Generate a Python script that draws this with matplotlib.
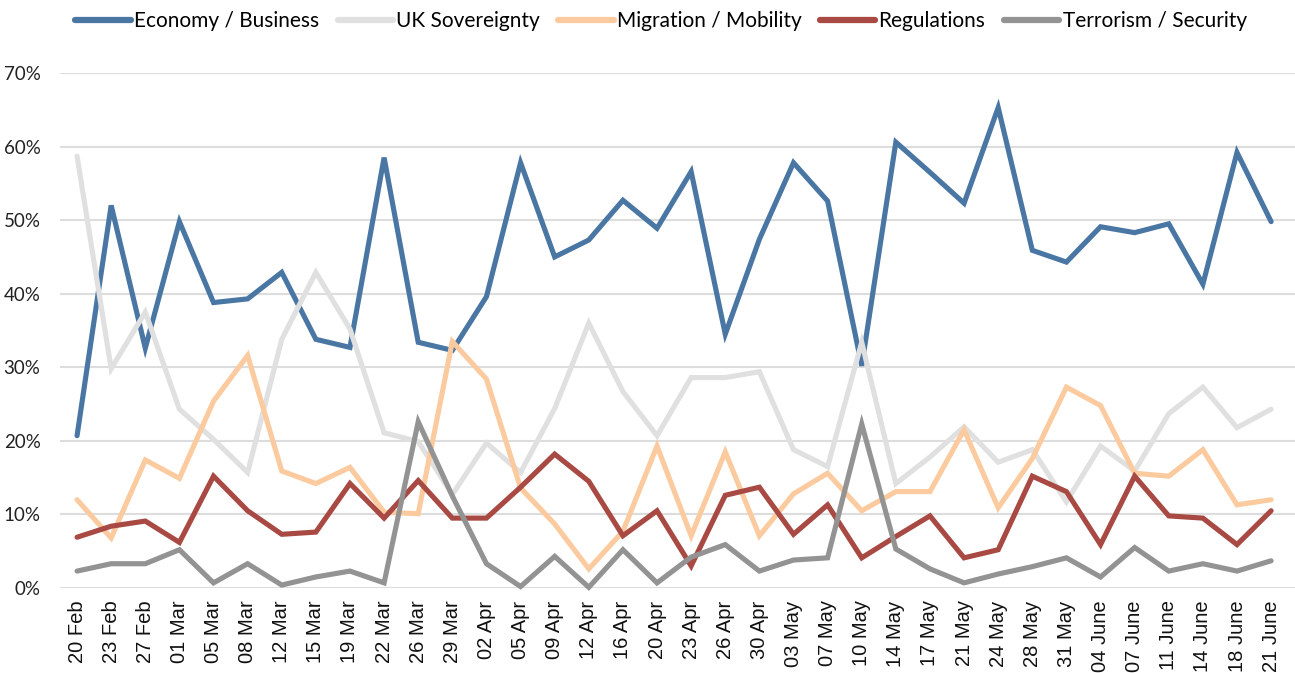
import matplotlib
matplotlib.use("Agg")
import matplotlib.pyplot as plt
import numpy as np

dates = ["20 Feb", "23 Feb", "27 Feb", "01 Mar", "05 Mar", "08 Mar", "12 Mar", "15 Mar",
         "19 Mar", "22 Mar", "26 Mar", "29 Mar", "02 Apr", "05 Apr", "09 Apr", "12 Apr",
         "16 Apr", "20 Apr", "23 Apr", "26 Apr", "30 Apr", "03 May", "07 May", "10 May",
         "14 May", "17 May", "21 May", "24 May", "28 May", "31 May", "04 June", "07 June",
         "11 June", "14 June", "18 June", "21 June"]

economy = [20.7, 52.0, 32.6, 49.8, 38.8, 39.3, 42.9, 33.8, 32.7, 58.5, 33.4, 32.3,
           39.6, 57.8, 45.0, 47.3, 52.7, 48.9, 56.6, 34.5, 47.4, 57.8, 52.6, 30.2,
           60.6, 56.5, 52.3, 65.3, 45.9, 44.3, 49.1, 48.3, 49.5, 41.3, 59.2, 49.8]
sovereignty = [58.7, 29.8, 37.5, 24.3, 20.2, 15.7, 33.8, 42.9, 35.2, 21.1, 19.9, 12.7,
               19.7, 15.7, 24.4, 36.0, 26.7, 20.7, 28.6, 28.6, 29.4, 18.8, 16.5, 33.4,
               14.2, 17.8, 21.9, 17.1, 18.8, 11.7, 19.3, 15.9, 23.7, 27.3, 21.8, 24.3]
migration = [12.0, 6.8, 17.4, 14.9, 25.4, 31.6, 15.9, 14.2, 16.4, 10.3, 10.1, 33.5,
             28.4, 13.6, 8.7, 2.6, 7.7, 19.3, 7.1, 18.5, 7.1, 12.8, 15.6, 10.5,
             13.1, 13.1, 21.5, 10.9, 17.6, 27.3, 24.8, 15.6, 15.2, 18.8, 11.3, 12.0]
regulations = [6.9, 8.4, 9.1, 6.2, 15.2, 10.5, 7.3, 7.6, 14.2, 9.5, 14.6, 9.5,
               9.5, 13.7, 18.2, 14.5, 7.1, 10.5, 3.0, 12.6, 13.7, 7.3, 11.3, 4.1,
               7.0, 9.8, 4.1, 5.2, 15.2, 13.1, 5.9, 15.2, 9.8, 9.5, 5.9, 10.5]
terrorism = [2.3, 3.3, 3.3, 5.2, 0.7, 3.3, 0.4, 1.5, 2.3, 0.7, 22.6, 12.5,
             3.3, 0.2, 4.3, 0.1, 5.2, 0.7, 4.2, 5.9, 2.3, 3.8, 4.1, 22.3,
             5.3, 2.6, 0.7, 1.9, 2.9, 4.1, 1.5, 5.5, 2.3, 3.3, 2.3, 3.7]

series = [
    ("Economy / Business", economy, "#4A76A4"),
    ("UK Sovereignty", sovereignty, "#E0E0E0"),
    ("Migration / Mobility", migration, "#FBCB9F"),
    ("Regulations", regulations, "#A84A43"),
    ("Terrorism / Security", terrorism, "#939393"),
]

fig = plt.figure(figsize=(12.95, 6.73), dpi=100)
ax = fig.add_axes([60 / 1295, (673 - 588) / 673, (1295 - 60) / 1295, (588 - 73) / 673])

x = np.arange(len(dates))
for name, vals, col in series:
    ax.plot(x, vals, color=col, lw=3.7, label=name, solid_joinstyle="miter",
            solid_capstyle="round", clip_on=False, zorder=3)

ax.set_xlim(-0.5, len(dates) - 0.5 + 0.2)
ax.set_ylim(0, 70)
ax.set_yticks(np.arange(0, 71, 10))
ax.set_yticklabels([f"{v}%" for v in range(0, 71, 10)], fontfamily="Lato", fontsize=13.5,
                   color="#222222")
ax.set_xticks(x)
ax.set_xticklabels(dates, rotation=90, fontfamily="Liberation Sans", fontsize=14.5,
                   va="top", ha="center", color="#111111")
ax.tick_params(axis="both", length=0)
ax.tick_params(axis="y", pad=14)
ax.tick_params(axis="x", pad=9)
ax.grid(axis="y", color="#DDDDDD", lw=1.5, zorder=0)
ax.set_axisbelow(True)
for s in ax.spines.values():
    s.set_visible(False)

leg = fig.legend(loc="center", bbox_to_anchor=(661 / 1295, 1 - 21 / 673), ncol=5,
                 frameon=False, handlelength=2.65, handletextpad=0.15, columnspacing=0.9,
                 prop={"family": "Lato", "size": 15})
for line in leg.get_lines():
    line.set_linewidth(4.5)
    line.set_solid_capstyle("round")

fig.savefig("out.png", dpi=100)
